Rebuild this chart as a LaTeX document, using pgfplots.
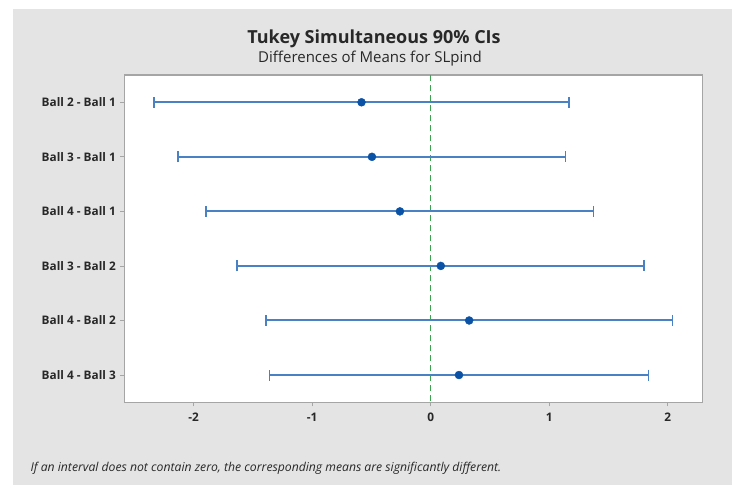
\documentclass[border=0pt]{standalone}
\usepackage{pgfplots}
\pgfplotsset{compat=1.18}
\usepackage{pgfplotstable}
\usepackage{fontspec}
\setmainfont{Open Sans}
\definecolor{panel}{RGB}{228,228,228}
\definecolor{barblue}{RGB}{74,128,196}
\definecolor{dotblue}{RGB}{10,82,165}
\definecolor{zgreen}{RGB}{60,165,80}
\definecolor{frame}{RGB}{165,165,165}
\definecolor{txt}{RGB}{40,40,40}
\pgfplotstableread{
r m e
1 -0.583 1.749
2 -0.495 1.633
3 -0.259 1.633
4 0.086 1.716
5 0.325 1.716
6 0.239 1.599
}\cidata
\begin{document}
\begin{tikzpicture}[x=1pt,y=1pt]
\fill[white] (0,0) rectangle (737,485);
\fill[panel] (12.7,0) rectangle (732,475.7);
\begin{axis}[
  at={(124.3pt,82.7pt)}, anchor=south west,
  width=578.4pt, height=327.3pt, scale only axis,
  xmin=-2.584, xmax=2.295, ymin=0.5, ymax=6.5, y dir=reverse,
  axis background/.style={fill=white},
  axis line style={frame, line width=1.2pt},
  xtick={-2,-1,0,1,2}, ytick={1,2,3,4,5,6},
  yticklabels={Ball 2 - Ball 1, Ball 3 - Ball 1, Ball 4 - Ball 1, Ball 3 - Ball 2, Ball 4 - Ball 2, Ball 4 - Ball 3},
  xtick pos=bottom, ytick pos=left, tick align=outside,
  major tick length=4pt,
  tick style={frame, line width=0.8pt},
  ticklabel style={font=\fontsize{11.8}{14}\selectfont\bfseries, text=txt},
  yticklabel style={xshift=-1pt},
  xticklabel style={yshift=-3pt},
  /pgf/number format/assume math mode=true,
  clip=false,
]
\addplot[zgreen, line width=1.4pt, dash pattern=on 6pt off 4pt] coordinates {(0,0.5) (0,6.5)};
\addplot[only marks, mark=*, mark size=4pt, mark options={fill=dotblue, draw=dotblue},
  error bars/.cd, x dir=both, x explicit,
  error bar style={barblue, line width=2pt},
  error mark options={barblue, line width=1.8pt, mark size=5.5pt, rotate=90}]
  table[x=m, y=r, x error=e] {\cidata};
\end{axis}
\node[font=\fontsize{18}{21}\selectfont\bfseries, text=txt] at (374,446) {Tukey Simultaneous 90\% CIs};
\node[font=\fontsize{15}{18}\selectfont, text=txt] at (370,426) {Differences of Means for SLpind};
\node[font=\fontsize{12.2}{14}\selectfont\itshape, text=txt, anchor=west] at (27,17) {If an interval does not contain zero, the corresponding means are significantly different.};
\end{tikzpicture}
\end{document}
